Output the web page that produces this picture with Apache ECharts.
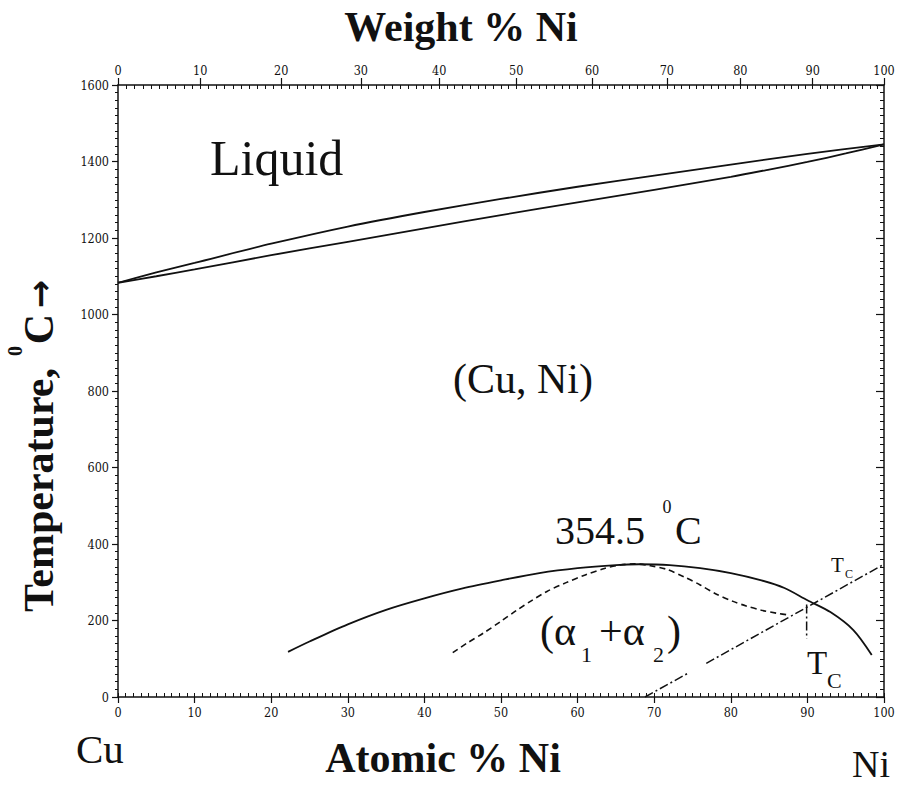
<!DOCTYPE html>
<html>
<head>
<meta charset="utf-8">
<script src="https://cdn.jsdelivr.net/npm/echarts@6/dist/echarts.min.js"></script>
<style>
html,body{margin:0;padding:0;background:#fff;}
#chart{width:903px;height:789px;}
</style>
</head>
<body>
<div id="chart"></div>
<script>
// ---- data ----
const atomicTicks = [0,10,20,30,40,50,60,70,80,90,100];
const tempTicks = [0,200,400,600,800,1000,1200,1400,1600];
const weightTicks = [0,10,20,30,40,50,60,70,80,90,100];
const liquidus = [[0,1083],[5,1110],[10,1135],[20,1185],[30,1230],[40,1268],[50,1302],[60,1334],[70,1363],[80,1392],[90,1420],[100,1445]];
const solidus = [[0,1083],[5,1100],[10,1118],[20,1155],[30,1190],[40,1225],[50,1260],[60,1293],[70,1326],[80,1360],[85,1379],[90,1399],[95,1421],[100,1445]];
const gapBoundary = [[22.2,118],[25,145],[30,190],[35,228],[40,258],[45,284],[50,305],[55,324],[60,337],[65,345],[68,347],[72,345],[76,337],[80,324],[84,305],[87,285],[90,253],[93,222],[96,175],[98.4,110]];
const spinodal = [[43.7,116],[45.5,140],[47.7,167],[50,198],[52,226],[54,252],[56,276],[58.5,299],[61,319],[63.5,336],[65.5,345],[67.5,348],[69.5,343],[71.6,334],[74,313],[76,293],[78,270],[80.3,250],[82,238],[84,227],[86,219],[87.7,214]];
const curieA = [[68.8,0],[74.4,62]];
const curieB = [[76.8,88],[100,347]];
const curieVertical = [[89.9,242],[89.9,152]];

// molar masses for the weight % (top) scale
const M_NI = 58.69, M_CU = 63.55;
function wtToAt(w){ if (w >= 100) return 100; if (w <= 0) return 0; const n = w / M_NI, c = (100 - w) / M_CU; return 100 * n / (n + c); }
const topMajorAt = weightTicks.map(wtToAt);
const topMinorAt = []; for (let w = 1; w < 100; w++) topMinorAt.push(wtToAt(w));
function weightLabel(v){ let best = 0, d = 1e9; topMajorAt.forEach((a,i)=>{ const dd = Math.abs(a - v); if (dd < d){ d = dd; best = i; } }); return String(weightTicks[best]); }

const BLACK = '#111';
const tickFont = { fontFamily: '"DejaVu Serif Condensed", "DejaVu Serif"', fontSize: 12.5, color: BLACK, formatter: v => String(v) };
const axisLine = { show: true, onZero: false, lineStyle: { color: BLACK, width: 1.5 } };
const noLine = { show: false, onZero: false };

const chart = echarts.init(document.getElementById('chart'), null, { renderer: 'svg' });

function lineSeries(name, data, type, width){
  return { name, type: 'line', data, xAxisIndex: 0, yAxisIndex: 0, showSymbol: false, symbol: 'none', smooth: 0.3,
    lineStyle: { color: BLACK, width: width || 1.8, type: type || 'solid' }, silent: true, animation: false };
}

const serif = 'Liberation Serif';
function txt(text, x, y, size, opts){
  opts = opts || {};
  return { type: 'text', x, y, rotation: opts.rotation || 0, silent: true,
    style: { text, fill: BLACK, font: (opts.bold ? 'bold ' : '') + size + 'px "' + (opts.family || serif) + '"',
      textAlign: opts.align || 'left', textVerticalAlign: 'middle' } };
}

chart.setOption({
  animation: false,
  backgroundColor: '#fff',
  grid: { left: 118, right: 19, top: 85, bottom: 92, containLabel: false },
  xAxis: [
    { type: 'value', position: 'bottom', min: 0, max: 100, interval: 10, axisLine,
      axisTick: { show: true, inside: false, length: 6, lineStyle: { color: BLACK, width: 1.2 } },
      axisLabel: Object.assign({}, tickFont, { margin: 9, customValues: atomicTicks }), splitLine: { show: false } },
    { type: 'value', position: 'bottom', min: 0, max: 100, interval: 1, axisLine: noLine,
      axisTick: { show: true, inside: true, length: 4, lineStyle: { color: BLACK, width: 1 } },
      axisLabel: { show: false }, splitLine: { show: false } },
    { type: 'value', position: 'top', min: 0, max: 100, axisLine,
      axisTick: { show: true, inside: false, length: 7, customValues: topMajorAt, lineStyle: { color: BLACK, width: 1.2 } },
      axisLabel: Object.assign({}, tickFont, { margin: 8, customValues: topMajorAt, formatter: weightLabel }), splitLine: { show: false } },
    { type: 'value', position: 'top', min: 0, max: 100, axisLine: noLine,
      axisTick: { show: true, inside: true, length: 4, customValues: topMinorAt, lineStyle: { color: BLACK, width: 1 } },
      axisLabel: { show: false }, splitLine: { show: false } }
  ],
  yAxis: [
    { type: 'value', position: 'left', min: 0, max: 1600, interval: 200, axisLine,
      axisTick: { show: true, inside: false, length: 6, lineStyle: { color: BLACK, width: 1.2 } },
      axisLabel: Object.assign({}, tickFont, { margin: 9, customValues: tempTicks }), splitLine: { show: false } },
    { type: 'value', position: 'left', min: 0, max: 1600, interval: 20, axisLine: noLine,
      axisTick: { show: true, inside: false, length: 3, lineStyle: { color: BLACK, width: 1 } },
      axisLabel: { show: false }, splitLine: { show: false } },
    { type: 'value', position: 'right', min: 0, max: 1600, interval: 200, axisLine,
      axisTick: { show: true, inside: true, length: 8, lineStyle: { color: BLACK, width: 1.2 } },
      axisLabel: { show: false }, splitLine: { show: false } },
    { type: 'value', position: 'right', min: 0, max: 1600, interval: 20, axisLine: noLine,
      axisTick: { show: true, inside: true, length: 4, lineStyle: { color: BLACK, width: 1 } },
      axisLabel: { show: false }, splitLine: { show: false } }
  ],
  series: [
    lineSeries('Liquidus', liquidus, 'solid', 1.8),
    lineSeries('Solidus', solidus, 'solid', 1.8),
    lineSeries('Miscibility gap', gapBoundary, 'solid', 1.8),
    lineSeries('Spinodal', spinodal, [6, 4], 1.6),
    Object.assign(lineSeries('Curie A', curieA, [9, 3, 2, 3], 1.5), { smooth: false }),
    Object.assign(lineSeries('Curie B', curieB, [9, 3, 2, 3], 1.5), { smooth: false }),
    Object.assign(lineSeries('Curie vertical', curieVertical, [9, 3, 2, 3], 1.5), { smooth: false })
  ],
  graphic: [
    txt('Weight % Ni', 461, 27, 42, { bold: true, align: 'center' }),
    txt('Atomic % Ni', 443, 758, 42, { bold: true, align: 'center' }),
    txt('Cu', 76, 749, 41),
    txt('Ni', 852, 764, 38),
    txt('Temperature,', 39, 490, 42, { bold: true, align: 'center', rotation: Math.PI / 2 }),
    txt('0', 15, 351, 20, { bold: true, align: 'center', rotation: Math.PI / 2 }),
    txt('C', 39, 329, 42, { bold: true, align: 'center', rotation: Math.PI / 2 }),
    txt('\u2192', 40, 294, 34, { bold: true, align: 'center', rotation: Math.PI / 2, family: 'DejaVu Sans' }),
    txt('Liquid', 210, 158, 50),
    txt('(Cu, Ni)', 453, 379, 42),
    txt('354.5', 555, 530, 40),
    txt('0', 667, 507, 18, { align: 'center' }),
    txt('C', 675, 530, 40),
    txt('(\u03b1', 540, 631, 42),
    txt('1', 581, 654, 22),
    txt('+\u03b1', 599, 631, 42),
    txt('2', 653, 654, 22),
    txt(')', 667, 631, 42),
    txt('T', 807, 663, 33),
    txt('C', 827, 680, 22),
    txt('T', 831, 565, 21),
    txt('C', 845, 574, 12)
  ]
});
</script>
</body>
</html>
